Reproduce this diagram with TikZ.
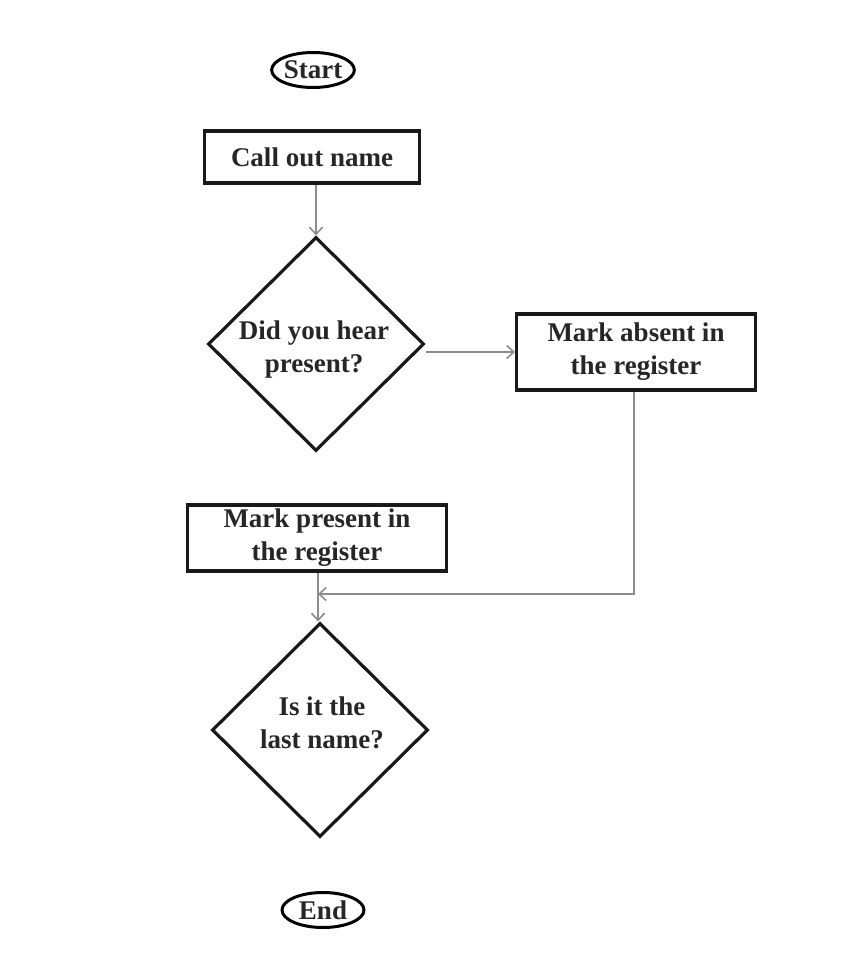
\documentclass[tikz,border=0pt]{standalone}
\usepackage{fontspec}
\setmainfont{Liberation Serif}
\usetikzlibrary{shapes.geometric,arrows.meta}
\begin{document}
\begin{tikzpicture}[x=1pt,y=-1pt,
  every node/.style={font=\fontsize{27}{33}\selectfont\bfseries, text=black!85},
  term/.style={draw=black, line width=3pt, ellipse, inner sep=0pt, minimum width=80pt, minimum height=35pt},
  proc/.style={draw=black!90, line width=3.2pt, rectangle, inner sep=0pt, align=center},
  dec/.style={draw=black!90, line width=3.2pt, diamond, inner sep=0pt, minimum width=216pt, minimum height=214pt},
  lbl/.style={align=center, inner sep=0pt},
  conn/.style={draw=black!45, line width=1.6pt, -{Straight Barb[length=7pt,width=13pt,line width=1.6pt]}}
]
\useasboundingbox[fill=white] (0,0) rectangle (859,957);
\node[term] (start) at (313,70) {Start};
\node[proc, minimum width=215pt, minimum height=52pt] (call) at (312,157) {Call out name};
\node[dec] (d1) at (316,344) {};
\node[lbl] (d1t) at (314,350) {Did you hear\\present?};
\node[proc, minimum width=239pt, minimum height=76pt] (absent) at (636,352) {Mark absent in\\the register};
\node[proc, minimum width=259pt, minimum height=66pt] (present) at (317,538) {Mark present in\\the register};
\node[dec] (d2) at (320,730) {};
\node[lbl] (d2t) at (322,723) {Is it the\\last name?};
\node[term, minimum width=82pt] (end) at (323,910) {End};
\coordinate (m) at (318,594);
\draw[conn] (call.south -| d1.north) -- (d1.north);
\draw[conn] (d1.east |- 0,352) -- (absent.west);
\draw[conn] (absent.south -| 634,0) |- (m);
\draw[conn] (present.south -| m) -- (d2.north -| m);
\end{tikzpicture}
\end{document}
